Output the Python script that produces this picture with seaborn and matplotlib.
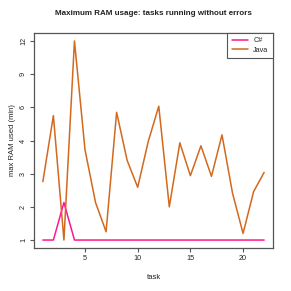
import numpy as np
import pandas as pd
import matplotlib
matplotlib.use("Agg")
import matplotlib.pyplot as plt
import seaborn as sns
from matplotlib.lines import Line2D

tasks = list(range(1, 23))
csharp = [1, 1, 2.13, 1, 1, 1, 1, 1, 1, 1, 1, 1, 1, 1, 1, 1, 1, 1, 1, 1, 1, 1]
java = [2.76, 5.5, 1.0, 12.0, 3.72, 2.13, 1.25, 5.7, 3.4, 2.59, 3.97, 6.1,
        2.0, 3.93, 2.94, 3.84, 2.92, 4.34, 2.41, 1.2, 2.46, 3.04]
ytick_vals = [1, 2, 3, 4, 6, 9, 12]
series_names = ["C#", "Java"]
colors = {"C#": "#FF1493", "Java": "#D2691E"}

df = pd.DataFrame({
    "task": tasks * 2,
    "ram": csharp + java,
    "lang": ["C#"] * len(tasks) + ["Java"] * len(tasks),
})

T = np.array(ytick_vals, float)
I = np.arange(len(T), dtype=float)


def fwd(y):
    y = np.asarray(y, float)
    out = np.interp(y, T, I)
    out = np.where(y < T[0], (y - T[0]) / (T[1] - T[0]), out)
    out = np.where(y > T[-1], I[-1] + (y - T[-1]) / (T[-1] - T[-2]), out)
    return out


def inv(i):
    i = np.asarray(i, float)
    out = np.interp(i, I, T)
    out = np.where(i < I[0], T[0] + i * (T[1] - T[0]), out)
    out = np.where(i > I[-1], T[-1] + (i - I[-1]) * (T[-1] - T[-2]), out)
    return out


sns.set_style("white")
plt.rcParams["font.family"] = ["Liberation Sans", "DejaVu Sans"]

fig = plt.figure(figsize=(2.91, 2.91), dpi=100)
ax = fig.add_axes([34 / 291, 43 / 291, 239 / 291, 215 / 291])

sns.lineplot(data=df, x="task", y="ram", hue="lang", palette=colors,
             hue_order=series_names, ax=ax, lw=1.1, legend=False)

ax.set_yscale("function", functions=(fwd, inv))
ax.set_ylim(inv(-0.24), inv(6.24))
ax.set_xlim(0.16, 22.84)
ax.set_yticks(ytick_vals)
ax.set_yticklabels([str(v) for v in ytick_vals], rotation=90, va="center")
ax.set_xticks([5, 10, 15, 20])
ax.yaxis.set_minor_locator(matplotlib.ticker.NullLocator())

for s in ax.spines.values():
    s.set_color("#555555")
    s.set_linewidth(0.9)
ax.tick_params(axis="both", direction="out", length=3, width=0.8,
               color="#555555", labelsize=5.2, pad=2, labelcolor="#222222")
ax.tick_params(left=True, bottom=True)

ax.set_xlabel("task", fontsize=5.5, labelpad=9, color="#222222")
ax.set_ylabel("max RAM used (min)", fontsize=5.5, labelpad=3, color="#222222")
ax.set_title("Maximum RAM usage: tasks running without errors",
             fontsize=5.8, fontweight="bold", pad=13, color="#222222")

handles = [Line2D([], [], color=colors[n], lw=1.1) for n in series_names]
leg = ax.legend(handles, series_names, loc="upper right", borderaxespad=0,
                fontsize=5.2, fancybox=False, framealpha=1, edgecolor="#555555",
                handlelength=2.2, borderpad=0.6, labelspacing=0.3)
leg.get_frame().set_linewidth(0.8)

fig.savefig("out.png", dpi=100, facecolor="white")
